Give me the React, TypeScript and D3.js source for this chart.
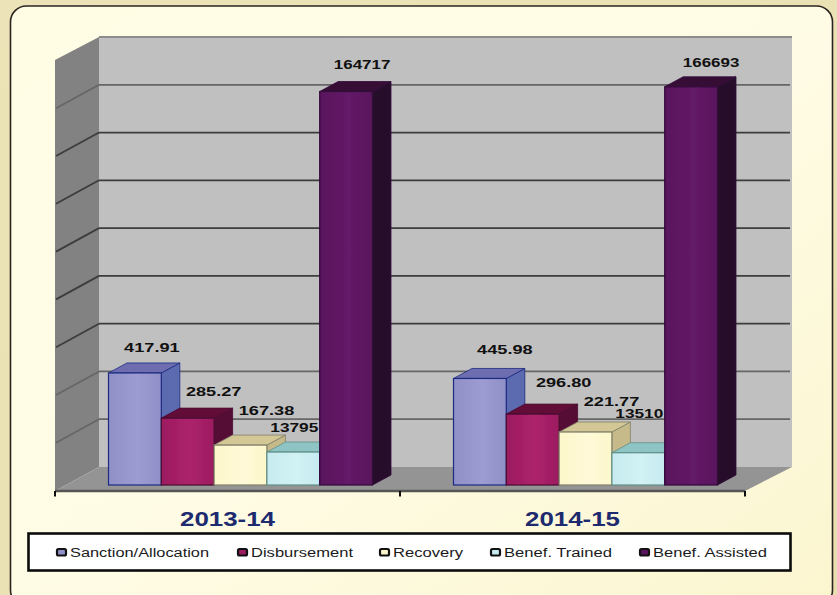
import React from "react";
import * as d3 from "d3";

const categories = ["2013-14", "2014-15"];
const seriesNames = ["Sanction/Allocation", "Disbursement", "Recovery", "Benef. Trained", "Benef. Assisted"];
const labels2013 = ["417.91", "285.27", "167.38", "13795", "164717"];
const labels2014 = ["445.98", "296.80", "221.77", "13510", "166693"];
// Bar heights in axis units.
const plotted2013 = [46900, 28000, 16700, 13795, 164717];
const plotted2014 = [44598, 29680, 22177, 13510, 166693];
const gridValues = [20000, 40000, 60000, 80000, 100000, 120000, 140000, 160000];
const AXIS_MAX = 180000;

const frontColors = ["#9090c8", "#9c1c60", "#fdf7cb", "#c6ebf0", "#58145c"];
const frontLight = ["#9c9cd2", "#ac226c", "#fff9d8", "#d2f2f4", "#641a68"];
const topColors = ["#6d6db0", "#620a38", "#d2c795", "#8fc4c4", "#340836"];
const sideColors = ["#5c6ab0", "#560a36", "#c6ba8a", "#7fb4b6", "#280a2c"];
const edgeColors = ["#1b2a80", "#4a0a30", "#80806a", "#5f8f88", "#32083a"];

const labelNudges = [
  [[17, -21], [26, -22], [26, -30], [1, -20], [16, -23]],
  [[25, -24], [31, -27], [26, -26], [1, -35], [20, -20]],
];
const legendSwatchX = [57, 238, 380, 491, 640];
const legendWidths = [139, 102, 70, 108, 114];

const W = 837, H = 595;
const frontL = 55, frontR = 745, floorFrontY = 491;
const wallL = 99, wallR = 792, wallTop = 37, wallBottom = 467;
const barBase = 485, barDepthX = 18.5, barDepthY = 10;

const heightScale = d3.scaleLinear().domain([0, AXIS_MAX]).range([0, wallBottom - wallTop]);
const xBand = d3.scaleBand<string>().domain(categories).range([frontL, frontR]);
const inner = d3.scaleBand<string>().domain(seriesNames).range([53.5, 53.5 + 264]);
const pts = (p: [number, number][]) => p.map((q) => q.join(",")).join(" ");

function Wide({ x, y, w, anchor = "start", size, bold, fill, children }: any) {
  return (
    <text
      x={x}
      y={y}
      textLength={w}
      lengthAdjust="spacingAndGlyphs"
      textAnchor={anchor}
      fontFamily="'Liberation Sans', Arial, sans-serif"
      fontSize={size}
      fontWeight={bold ? 700 : 400}
      fill={fill}
    >
      {children}
    </text>
  );
}

export default function App() {
  const groups = [plotted2013, plotted2014];
  const groupLabels = [labels2013, labels2014];
  return (
    <svg width={W} height={H} viewBox={`0 0 ${W} ${H}`} style={{ position: "absolute", left: 0, top: 0 }}>
      <defs>
        <linearGradient id="outer" x1="0" y1="0" x2="1" y2="1">
          <stop offset="0" stopColor="#ece3b8" />
          <stop offset="1" stopColor="#e8dfb0" />
        </linearGradient>
        <linearGradient id="panel" x1="0" y1="0" x2="1" y2="1">
          <stop offset="0" stopColor="#fffde4" />
          <stop offset="0.5" stopColor="#fffce6" />
          <stop offset="1" stopColor="#fbf5cf" />
        </linearGradient>
        {seriesNames.map((_, i) => (
          <linearGradient key={i} id={`bar${i}`} x1="0" y1="0" x2="1" y2="0">
            <stop offset="0" stopColor={frontColors[i]} />
            <stop offset="0.55" stopColor={frontLight[i]} />
            <stop offset="1" stopColor={frontColors[i]} />
          </linearGradient>
        ))}
        <filter id="soft" x="-2%" y="-2%" width="104%" height="104%">
          <feGaussianBlur stdDeviation="0.6" />
        </filter>
      </defs>
      <rect width={W} height={H} fill="url(#outer)" />
      <rect x={10.5} y={6} width={822} height={600} rx={16} fill="url(#panel)" stroke="#2c2420" strokeWidth={1.6} />

      <g filter="url(#soft)">
        <polygon points={pts([[wallL, wallTop], [wallR, wallTop], [wallR, wallBottom], [wallL, wallBottom]])} fill="#c0c0c0" />
        <polygon points={pts([[frontL, 60], [wallL, wallTop], [wallL, wallBottom], [frontL, floorFrontY]])} fill="#828282" />
        <polygon points={pts([[frontL, floorFrontY], [frontR, floorFrontY], [wallR, wallBottom], [wallL, wallBottom]])} fill="#949494" />
        <line x1={wallL} x2={wallR} y1={wallTop} y2={wallTop} stroke="#8c8c8c" strokeWidth={2} />
        {gridValues.map((v) => {
          const y = wallBottom - heightScale(v);
          return (
            <g key={v} stroke={v <= 40000 || v === 160000 ? "#666" : "#3c3c3c"} strokeWidth={1.8}>
              <line x1={wallL} x2={wallR - 2} y1={y} y2={y} />
              <line x1={wallL} x2={frontL + 1} y1={y} y2={y + 23.5} />
            </g>
          );
        })}
        <line x1={frontL} x2={frontR} y1={floorFrontY} y2={floorFrontY} stroke="#555" strokeWidth={2.6} />
        {[frontL, (frontL + frontR) / 2, frontR].map((x) => (
          <line key={x} x1={x} x2={x} y1={floorFrontY} y2={floorFrontY + 5.5} stroke="#111" strokeWidth={2} />
        ))}

        {categories.map((c, g) =>
          groups[g].map((v, i) => {
            const x0 = (xBand(c) as number) + (inner(seriesNames[i]) as number);
            const bw = inner.bandwidth();
            const top = barBase - heightScale(v);
            const x1 = x0 + bw;
            return (
              <g key={c + i}>
                <polygon
                  points={pts([[x1, top], [x1 + barDepthX, top - barDepthY], [x1 + barDepthX, barBase - barDepthY], [x1, barBase]])}
                  fill={sideColors[i]}
                  stroke={edgeColors[i]}
                  strokeWidth={0.8}
                />
                <polygon
                  points={pts([[x0, top], [x0 + barDepthX, top - barDepthY], [x1 + barDepthX, top - barDepthY], [x1, top]])}
                  fill={topColors[i]}
                  stroke={edgeColors[i]}
                  strokeWidth={0.8}
                />
                <rect x={x0} y={top} width={bw} height={barBase - top} fill={`url(#bar${i})`} stroke={edgeColors[i]} strokeWidth={1.2} />
              </g>
            );
          })
        )}
      </g>

      {categories.map((c, g) =>
        groups[g].map((v, i) => {
          const x = (xBand(c) as number) + (inner(seriesNames[i]) as number) + inner.bandwidth() / 2 + labelNudges[g][i][0];
          const y = barBase - heightScale(v) + labelNudges[g][i][1];
          const text = groupLabels[g][i];
          return (
            <Wide key={c + i} x={x} y={y} anchor="middle" w={text.length * 8.6 + (text.includes(".") ? 4 : 5)} size={12.5} bold fill="#111">
              {text}
            </Wide>
          );
        })
      )}

      {categories.map((c) => (
        <Wide key={c} x={(xBand(c) as number) + xBand.bandwidth() / 2} y={526} w={95} anchor="middle" size={20} bold fill="#1d2a6e">
          {c}
        </Wide>
      ))}

      <rect x={28.5} y={533.5} width={762} height={37} fill="#fff" stroke="#0c0c0c" strokeWidth={2.6} />
      {seriesNames.map((s, i) => (
        <g key={s}>
          <rect x={legendSwatchX[i]} y={549} width={9} height={6.5} rx={1.5} fill={frontColors[i]} stroke="#111" strokeWidth={2.2} />
          <Wide x={legendSwatchX[i] + 13} y={557} w={legendWidths[i]} size={12.5} fill="#1a1a1a">
            {s}
          </Wide>
        </g>
      ))}
    </svg>
  );
}
